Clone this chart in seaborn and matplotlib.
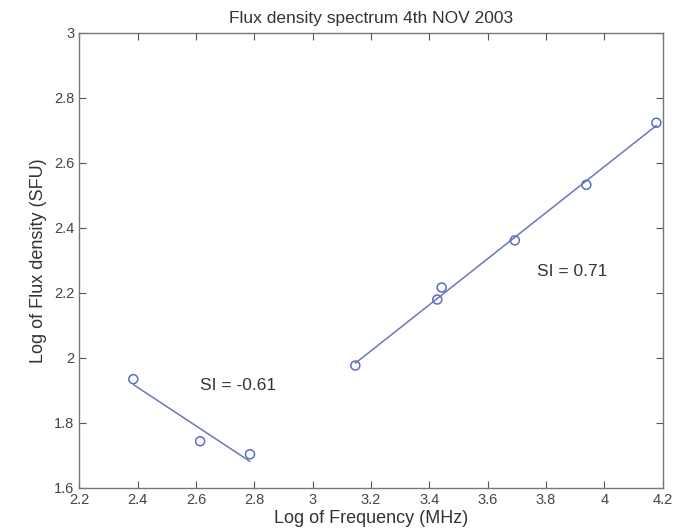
import matplotlib
matplotlib.use("Agg")
import matplotlib.pyplot as plt
import seaborn as sns
import numpy as np
from matplotlib.ticker import FuncFormatter

# Data (log frequency MHz, log flux density SFU)
low_freq = [2.385, 2.614, 2.785]
low_flux = [1.934, 1.743, 1.703]
high_freq = [3.146, 3.427, 3.442, 3.693, 3.938, 4.178]
high_flux = [1.976, 2.179, 2.216, 2.361, 2.532, 2.723]
labels = ["SI = -0.61", "SI = 0.71"]
label_pos_x = [2.614, 3.77]
label_pos_y = [1.914, 2.265]

sns.set_theme(style="white")
plt.rcParams['font.family'] = ['Liberation Sans', 'DejaVu Sans']

fig = plt.figure(figsize=(6.89, 5.30), dpi=100)
ax = fig.add_axes([0.1152, 0.0798, 0.9619 - 0.1152, 0.9383 - 0.0798])

line_col = "#6878be"
mark_col = "#5a6ec4"

for xs, ys in [(low_freq, low_flux), (high_freq, high_flux)]:
    sns.regplot(x=xs, y=ys, ax=ax, scatter=False, ci=None, truncate=True,
                line_kws=dict(color=line_col, lw=1.1))
    sns.scatterplot(x=xs, y=ys, ax=ax, marker='o', s=42, facecolor='none',
                    edgecolor=mark_col, linewidth=1.1, zorder=3)

for t, px, py in zip(labels, label_pos_x, label_pos_y):
    ax.text(px, py, t, fontsize=12.5, color="#333333", ha='left', va='center')

ax.set_xlim(2.2, 4.2)
ax.set_ylim(1.6, 3.0)
ax.set_xticks(np.round(np.arange(2.2, 4.21, 0.2), 1))
ax.set_yticks(np.round(np.arange(1.6, 3.01, 0.2), 1))
fmt = FuncFormatter(lambda v, p: f"{v:g}")
ax.xaxis.set_major_formatter(fmt)
ax.yaxis.set_major_formatter(fmt)

ax.tick_params(direction='in', length=5, width=0.8, colors="#555555",
               labelcolor="#444444", labelsize=10.5, top=True, right=True,
               bottom=True, left=True)
ax.tick_params(axis='x', pad=4)
for s in ax.spines.values():
    s.set_color("#777777")
    s.set_linewidth(1.0)

ax.set_xlabel("Log of Frequency (MHz)", fontsize=13, color="#333333", labelpad=2)
ax.set_ylabel("Log of Flux density (SFU)", fontsize=13, color="#333333", labelpad=5)
ax.set_title("Flux density spectrum 4th NOV 2003", fontsize=12.5, color="#333333", pad=7)

fig.savefig("out.png", dpi=100)
